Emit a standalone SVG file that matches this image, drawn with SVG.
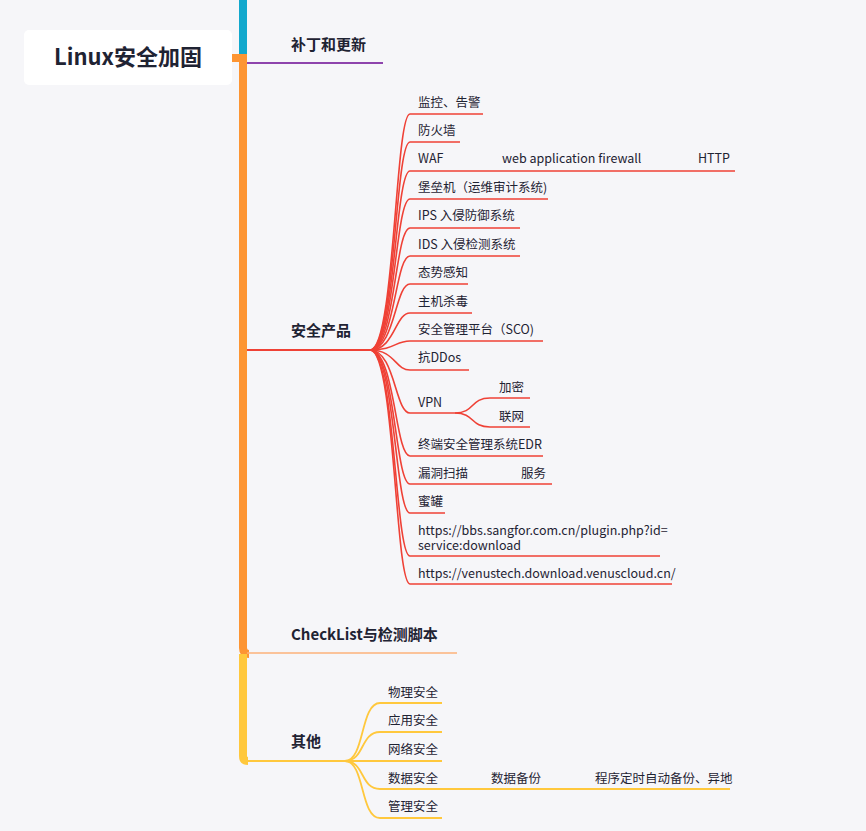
<svg xmlns="http://www.w3.org/2000/svg" width="866" height="831" viewBox="0 0 866 831">
<style>
text{font-family:"Noto Sans CJK SC","Noto Sans",sans-serif;fill:#1f2333}
.t{font-size:12.5px}
.b{font-size:15px;font-weight:bold}
.r{stroke:#ef4136;stroke-width:1.6;fill:none}
.y{stroke:#ffc83d;stroke-width:1.8;fill:none}
</style>
<rect width="866" height="831" fill="#f6f6f9"/>
<g id="connectors">
<rect x="239" y="0" width="8" height="56" fill="#12a8cd"/>
<path d="M232 58H243V648q0 6 6 6" stroke="#fd9533" stroke-width="8" fill="none"/>
<path d="M243 654V756q0 5 5 5" stroke="#ffc83d" stroke-width="8" fill="none"/>
<path d="M247 63H383" stroke="#8e44ad" stroke-width="2"/>
<path d="M247 653H457" stroke="#fdb27a" stroke-width="1.5"/>
<path d="M247 350H370" stroke="#ef4136" stroke-width="2"/>
<g class="r">
<path d="M370 350C395 350 395 114 410 114H483"/>
<path d="M370 350C395 350 395 142 410 142H460"/>
<path d="M370 350C395 350 395 171 410 171H735"/>
<path d="M370 350C395 350 395 199 410 199H548"/>
<path d="M370 350C395 350 395 228 410 228H520"/>
<path d="M370 350C395 350 395 256 410 256H520"/>
<path d="M370 350C395 350 395 284 410 284H468"/>
<path d="M370 350C395 350 395 313 410 313H472"/>
<path d="M370 350C395 350 395 341 410 341H543"/>
<path d="M370 350C395 350 395 370 410 370H469"/>
<path d="M370 350C395 350 395 413 410 413H455"/>
<path d="M455 413C475 413 470 398 490 398H530"/>
<path d="M455 413C475 413 470 427 490 427H530"/>
<path d="M370 350C395 350 395 456 410 456H543"/>
<path d="M370 350C395 350 395 484 410 484H552"/>
<path d="M370 350C395 350 395 513 410 513H445"/>
<path d="M370 350C395 350 395 556 410 556H660"/>
<path d="M370 350C395 350 395 584 410 584H672"/>
</g>
<path d="M247 761H345" stroke="#ffc83d" stroke-width="2"/>
<g class="y">
<path d="M345 761C365 761 360 703 380 703H442"/>
<path d="M345 761C365 761 360 732 380 732H442"/>
<path d="M345 761H442"/>
<path d="M345 761C365 761 360 789 380 789H730"/>
<path d="M345 761C365 761 360 818 380 818H442"/>
</g>
</g>
<g id="root"><rect x="24" y="30" width="208" height="55" rx="5" fill="#fff"/><text x="128" y="65" text-anchor="middle" style="font-size:22px;font-weight:bold">Linux安全加固</text></g>
<g id="n1"><text class="b" x="291" y="50">补丁和更新</text></g>
<g id="n2"><text class="b" x="291" y="336">安全产品</text></g>
<g id="n3"><text class="b" x="291" y="640">CheckList与检测脚本</text></g>
<g id="n4"><text class="b" x="291" y="747">其他</text></g>
<g id="red">
<text class="t" x="418" y="107">监控、告警</text>
<text class="t" x="418" y="135">防火墙</text>
<text class="t" x="418" y="163">WAF</text>
<text class="t" x="502" y="163">web application firewall</text>
<text class="t" x="698" y="163">HTTP</text>
<text class="t" x="418" y="192">堡垒机（运维审计系统)</text>
<text class="t" x="418" y="220">IPS 入侵防御系统</text>
<text class="t" x="418" y="249">IDS 入侵检测系统</text>
<text class="t" x="418" y="277">态势感知</text>
<text class="t" x="418" y="306">主机杀毒</text>
<text class="t" x="418" y="334">安全管理平台（SCO)</text>
<text class="t" x="418" y="362">抗DDos</text>
<text class="t" x="418" y="407">VPN</text>
<text class="t" x="499" y="392">加密</text>
<text class="t" x="499" y="421">联网</text>
<text class="t" x="418" y="449">终端安全管理系统EDR</text>
<text class="t" x="418" y="478">漏洞扫描</text>
<text class="t" x="521" y="478">服务</text>
<text class="t" x="418" y="506">蜜罐</text>
<text class="t" x="418" y="535">https://bbs.sangfor.com.cn/plugin.php?id=<tspan x="418" dy="15">service:download</tspan></text>
<text class="t" x="418" y="578">https://venustech.download.venuscloud.cn/</text>
</g>
<g id="yellow">
<text class="t" x="388" y="697">物理安全</text>
<text class="t" x="388" y="725">应用安全</text>
<text class="t" x="388" y="754">网络安全</text>
<text class="t" x="388" y="783">数据安全</text>
<text class="t" x="491" y="783">数据备份</text>
<text class="t" x="595" y="783">程序定时自动备份、异地</text>
<text class="t" x="388" y="811">管理安全</text>
</g>
</svg>
